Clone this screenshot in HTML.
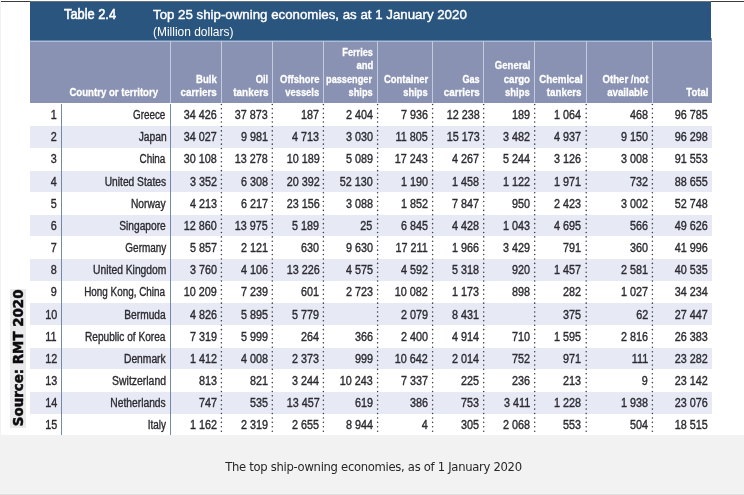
<!DOCTYPE html>
<html lang="en"><head><meta charset="utf-8"><title>Table 2.4</title>
<style>
html,body{margin:0;padding:0;}
body{width:744px;height:495px;position:relative;overflow:hidden;background:#f2f2f2;font-family:"Liberation Sans",sans-serif;}
#clip{position:absolute;left:0;top:0;width:744px;height:434.6px;overflow:hidden;}
#blur{position:absolute;left:-20px;top:-20px;width:784px;height:475px;filter:blur(0.3px);}
#org{position:absolute;left:20px;top:20px;width:744px;height:435px;}
#img{position:absolute;left:1px;top:-20px;width:783px;height:475px;background:#fff;}
#topline{position:absolute;left:1px;top:0.8px;width:743px;height:1.2px;background:#3a3a3a;}
#topline2{position:absolute;left:29.5px;top:0.8px;width:681.5px;height:1.5px;background:linear-gradient(#777,#5a6a7c);}
#titlebar{position:absolute;left:29.5px;top:2.2px;width:681.5px;height:38.2px;background:#29557f;}
#hdr{position:absolute;left:29.7px;top:38px;width:682.3px;height:64.7px;background:#8992b2;}
#hline{position:absolute;left:29.7px;top:40px;width:682.3px;height:2px;background:linear-gradient(#29557f 0,#29557f 20%,#a9bcd9 30%,#a9bcd9 80%,#8992b2 100%);}
.band{position:absolute;left:30px;width:682px;background:#e7e9f5;}
.t{position:absolute;white-space:nowrap;line-height:1;}
.r{transform-origin:right bottom;text-align:right;}
.l{transform-origin:left bottom;}
.num{font-size:12.0px;color:#2a2a30;-webkit-text-stroke:0.35px #2a2a30;}
.txt{font-size:12.0px;color:#2a2a30;-webkit-text-stroke:0.35px #2a2a30;}
.hd{font-size:11.4px;color:#fff;font-weight:bold;-webkit-text-stroke:0.3px #fff;}
.vs{position:absolute;width:1.4px;background:#7389a8;}
.hs{position:absolute;width:1.2px;background:#c3cbe0;top:41px;height:62px;}
#title1{left:63.8px;font-size:13.8px;color:#fff;-webkit-text-stroke:0.55px #fff;transform:scaleX(0.93);}
#title2{left:153.2px;font-size:13.6px;color:#fff;-webkit-text-stroke:0.42px #fff;transform:scaleX(0.977);}
#title3{left:152.9px;font-size:12.8px;color:#fff;transform:scaleX(0.935);}
#src{position:absolute;left:10px;top:288.5px;width:15.5px;height:139.7px;background:#eaeaec;}
#srct{position:absolute;left:0;top:0;white-space:nowrap;font-family:"DejaVu Sans","Liberation Sans",sans-serif;font-weight:bold;font-size:13.4px;color:#0c0c0c;-webkit-text-stroke:0.5px #0c0c0c;line-height:15.5px;height:15.5px;width:139.7px;text-align:center;transform-origin:0 0;transform:translate(1.2px,138.7px) rotate(-90deg);}
#cap{position:absolute;left:0;width:744px;text-align:center;top:459px;font-family:"DejaVu Sans","Liberation Sans",sans-serif;font-size:11.6px;color:#262626;line-height:16px;letter-spacing:-0.3px;padding-left:3px;box-sizing:border-box;}
#botline{position:absolute;left:0;top:494px;width:744px;height:1px;background:#dedede;}
</style></head><body>
<div id="clip"><div id="blur"><div id="org"><div id="img"></div>

<div class="band" style="top:126.20px;height:21.7px"></div>
<div class="band" style="top:170.50px;height:21.7px"></div>
<div class="band" style="top:214.80px;height:21.7px"></div>
<div class="band" style="top:259.10px;height:21.7px"></div>
<div class="band" style="top:303.40px;height:21.7px"></div>
<div class="band" style="top:347.70px;height:21.7px"></div>
<div class="band" style="top:392.00px;height:21.7px"></div>
<div id="topline"></div><div id="topline2"></div><div id="hdr"></div><div id="hline"></div><div id="titlebar"></div>
<div class="vs" style="left:61.1px;top:103.6px;height:331px"></div>
<div class="vs" style="left:169.5px;top:103.6px;height:331px"></div>
<div class="hs" style="left:169.6px"></div>
<div class="hs" style="left:220.80px"></div>
<div class="hs" style="left:271.70px"></div>
<div class="hs" style="left:322.80px"></div>
<div class="hs" style="left:377.00px"></div>
<div class="hs" style="left:432.00px"></div>
<div class="hs" style="left:483.10px"></div>
<div class="hs" style="left:534.10px"></div>
<div class="hs" style="left:585.60px"></div>
<div class="hs" style="left:651.80px"></div>
<svg id="dots" width="744" height="435" viewBox="0 0 744 435" style="position:absolute;left:0;top:0" fill="none" stroke="#36424f" stroke-width="1.55" stroke-linecap="round" stroke-dasharray="0.01 4.406">
<path d="M221.40 104.4V434"/>
<path d="M272.30 104.4V434"/>
<path d="M323.40 104.4V434"/>
<path d="M377.60 104.4V434"/>
<path d="M432.60 104.4V434"/>
<path d="M483.70 104.4V434"/>
<path d="M534.70 104.4V434"/>
<path d="M586.20 104.4V434"/>
<path d="M652.40 104.4V434"/>
</svg>
<span class="t l" id="title1" style="top:7.62px">Table 2.4</span>
<span class="t l" id="title2" style="top:7.59px">Top 25 ship-owning economies, as at 1 January 2020</span>
<span class="t l" id="title3" style="top:26.16px">(Million dollars)</span>
<span class="t r hd" style="right:585.90px;top:86.60px;transform:scaleX(0.8440)">Country or territory</span>
<span class="t r hd" style="right:527.70px;top:73.50px;transform:scaleX(0.8358)">Bulk</span>
<span class="t r hd" style="right:527.00px;top:86.60px;transform:scaleX(0.8686)">carriers</span>
<span class="t r hd" style="right:475.50px;top:73.50px;transform:scaleX(0.8206)">Oil</span>
<span class="t r hd" style="right:475.90px;top:86.60px;transform:scaleX(0.8687)">tankers</span>
<span class="t r hd" style="right:424.80px;top:73.50px;transform:scaleX(0.8295)">Offshore</span>
<span class="t r hd" style="right:425.05px;top:86.60px;transform:scaleX(0.8251)">vessels</span>
<span class="t r hd" style="right:370.90px;top:47.30px;transform:scaleX(0.8088)">Ferries</span>
<span class="t r hd" style="right:370.65px;top:60.40px;transform:scaleX(0.8307)">and</span>
<span class="t r hd" style="right:371.60px;top:73.50px;transform:scaleX(0.8066)">passenger</span>
<span class="t r hd" style="right:371.40px;top:86.60px;transform:scaleX(0.8133)">ships</span>
<span class="t r hd" style="right:316.00px;top:73.50px;transform:scaleX(0.8324)">Container</span>
<span class="t r hd" style="right:316.00px;top:86.60px;transform:scaleX(0.8216)">ships</span>
<span class="t r hd" style="right:264.10px;top:73.50px;transform:scaleX(0.7962)">Gas</span>
<span class="t r hd" style="right:264.60px;top:86.60px;transform:scaleX(0.8624)">carriers</span>
<span class="t r hd" style="right:213.30px;top:60.40px;transform:scaleX(0.8381)">General</span>
<span class="t r hd" style="right:213.80px;top:73.50px;transform:scaleX(0.8482)">cargo</span>
<span class="t r hd" style="right:213.80px;top:86.60px;transform:scaleX(0.8305)">ships</span>
<span class="t r hd" style="right:161.60px;top:73.50px;transform:scaleX(0.8561)">Chemical</span>
<span class="t r hd" style="right:162.60px;top:86.60px;transform:scaleX(0.8561)">tankers</span>
<span class="t r hd" style="right:96.00px;top:73.50px;transform:scaleX(0.8424)">Other /not</span>
<span class="t r hd" style="right:95.50px;top:86.60px;transform:scaleX(0.8513)">available</span>
<span class="t r hd" style="right:35.85px;top:86.60px;transform:scaleX(0.8367)">Total</span>
<span class="t r num" style="right:687.10px;top:108.99px;transform:scaleX(0.9000)">1</span>
<span class="t r txt" style="right:578.20px;top:108.99px;transform:scaleX(0.8211)">Greece</span>
<span class="t r num" style="right:527.00px;top:108.99px;transform:scaleX(0.9000)">34 426</span>
<span class="t r num" style="right:476.00px;top:108.99px;transform:scaleX(0.9000)">37 873</span>
<span class="t r num" style="right:424.80px;top:108.99px;transform:scaleX(0.9000)">187</span>
<span class="t r num" style="right:371.40px;top:108.99px;transform:scaleX(0.9000)">2 404</span>
<span class="t r num" style="right:316.00px;top:108.99px;transform:scaleX(0.9000)">7 936</span>
<span class="t r num" style="right:264.60px;top:108.99px;transform:scaleX(0.9000)">12 238</span>
<span class="t r num" style="right:213.80px;top:108.99px;transform:scaleX(0.9000)">189</span>
<span class="t r num" style="right:162.60px;top:108.99px;transform:scaleX(0.9000)">1 064</span>
<span class="t r num" style="right:96.00px;top:108.99px;transform:scaleX(0.9000)">468</span>
<span class="t r num" style="right:36.60px;top:108.99px;transform:scaleX(0.9000)">96 785</span>
<span class="t r num" style="right:687.10px;top:131.16px;transform:scaleX(0.9000)">2</span>
<span class="t r txt" style="right:577.70px;top:131.16px;transform:scaleX(0.8560)">Japan</span>
<span class="t r num" style="right:527.00px;top:131.16px;transform:scaleX(0.9000)">34 027</span>
<span class="t r num" style="right:476.00px;top:131.16px;transform:scaleX(0.9000)">9 981</span>
<span class="t r num" style="right:424.80px;top:131.16px;transform:scaleX(0.9000)">4 713</span>
<span class="t r num" style="right:371.40px;top:131.16px;transform:scaleX(0.9000)">3 030</span>
<span class="t r num" style="right:316.00px;top:131.16px;transform:scaleX(0.9000)">11 805</span>
<span class="t r num" style="right:264.60px;top:131.16px;transform:scaleX(0.9000)">15 173</span>
<span class="t r num" style="right:213.80px;top:131.16px;transform:scaleX(0.9000)">3 482</span>
<span class="t r num" style="right:162.60px;top:131.16px;transform:scaleX(0.9000)">4 937</span>
<span class="t r num" style="right:96.00px;top:131.16px;transform:scaleX(0.9000)">9 150</span>
<span class="t r num" style="right:36.60px;top:131.16px;transform:scaleX(0.9000)">96 298</span>
<span class="t r num" style="right:687.10px;top:153.33px;transform:scaleX(0.9000)">3</span>
<span class="t r txt" style="right:578.20px;top:153.33px;transform:scaleX(0.8243)">China</span>
<span class="t r num" style="right:527.00px;top:153.33px;transform:scaleX(0.9000)">30 108</span>
<span class="t r num" style="right:476.00px;top:153.33px;transform:scaleX(0.9000)">13 278</span>
<span class="t r num" style="right:424.80px;top:153.33px;transform:scaleX(0.9000)">10 189</span>
<span class="t r num" style="right:371.40px;top:153.33px;transform:scaleX(0.9000)">5 089</span>
<span class="t r num" style="right:316.00px;top:153.33px;transform:scaleX(0.9000)">17 243</span>
<span class="t r num" style="right:264.60px;top:153.33px;transform:scaleX(0.9000)">4 267</span>
<span class="t r num" style="right:213.80px;top:153.33px;transform:scaleX(0.9000)">5 244</span>
<span class="t r num" style="right:162.60px;top:153.33px;transform:scaleX(0.9000)">3 126</span>
<span class="t r num" style="right:96.00px;top:153.33px;transform:scaleX(0.9000)">3 008</span>
<span class="t r num" style="right:36.60px;top:153.33px;transform:scaleX(0.9000)">91 553</span>
<span class="t r num" style="right:687.10px;top:175.50px;transform:scaleX(0.9000)">4</span>
<span class="t r txt" style="right:578.20px;top:175.50px;transform:scaleX(0.8513)">United States</span>
<span class="t r num" style="right:527.00px;top:175.50px;transform:scaleX(0.9000)">3 352</span>
<span class="t r num" style="right:476.00px;top:175.50px;transform:scaleX(0.9000)">6 308</span>
<span class="t r num" style="right:424.80px;top:175.50px;transform:scaleX(0.9000)">20 392</span>
<span class="t r num" style="right:371.40px;top:175.50px;transform:scaleX(0.9000)">52 130</span>
<span class="t r num" style="right:316.00px;top:175.50px;transform:scaleX(0.9000)">1 190</span>
<span class="t r num" style="right:264.60px;top:175.50px;transform:scaleX(0.9000)">1 458</span>
<span class="t r num" style="right:213.80px;top:175.50px;transform:scaleX(0.9000)">1 122</span>
<span class="t r num" style="right:162.60px;top:175.50px;transform:scaleX(0.9000)">1 971</span>
<span class="t r num" style="right:96.00px;top:175.50px;transform:scaleX(0.9000)">732</span>
<span class="t r num" style="right:36.60px;top:175.50px;transform:scaleX(0.9000)">88 655</span>
<span class="t r num" style="right:687.10px;top:197.67px;transform:scaleX(0.9000)">5</span>
<span class="t r txt" style="right:578.70px;top:197.67px;transform:scaleX(0.8532)">Norway</span>
<span class="t r num" style="right:527.00px;top:197.67px;transform:scaleX(0.9000)">4 213</span>
<span class="t r num" style="right:476.00px;top:197.67px;transform:scaleX(0.9000)">6 217</span>
<span class="t r num" style="right:424.80px;top:197.67px;transform:scaleX(0.9000)">23 156</span>
<span class="t r num" style="right:371.40px;top:197.67px;transform:scaleX(0.9000)">3 088</span>
<span class="t r num" style="right:316.00px;top:197.67px;transform:scaleX(0.9000)">1 852</span>
<span class="t r num" style="right:264.60px;top:197.67px;transform:scaleX(0.9000)">7 847</span>
<span class="t r num" style="right:213.80px;top:197.67px;transform:scaleX(0.9000)">950</span>
<span class="t r num" style="right:162.60px;top:197.67px;transform:scaleX(0.9000)">2 423</span>
<span class="t r num" style="right:96.00px;top:197.67px;transform:scaleX(0.9000)">3 002</span>
<span class="t r num" style="right:36.60px;top:197.67px;transform:scaleX(0.9000)">52 748</span>
<span class="t r num" style="right:687.10px;top:219.84px;transform:scaleX(0.9000)">6</span>
<span class="t r txt" style="right:578.20px;top:219.84px;transform:scaleX(0.8498)">Singapore</span>
<span class="t r num" style="right:527.00px;top:219.84px;transform:scaleX(0.9000)">12 860</span>
<span class="t r num" style="right:476.00px;top:219.84px;transform:scaleX(0.9000)">13 975</span>
<span class="t r num" style="right:424.80px;top:219.84px;transform:scaleX(0.9000)">5 189</span>
<span class="t r num" style="right:371.40px;top:219.84px;transform:scaleX(0.9000)">25</span>
<span class="t r num" style="right:316.00px;top:219.84px;transform:scaleX(0.9000)">6 845</span>
<span class="t r num" style="right:264.60px;top:219.84px;transform:scaleX(0.9000)">4 428</span>
<span class="t r num" style="right:213.80px;top:219.84px;transform:scaleX(0.9000)">1 043</span>
<span class="t r num" style="right:162.60px;top:219.84px;transform:scaleX(0.9000)">4 695</span>
<span class="t r num" style="right:96.00px;top:219.84px;transform:scaleX(0.9000)">566</span>
<span class="t r num" style="right:36.60px;top:219.84px;transform:scaleX(0.9000)">49 626</span>
<span class="t r num" style="right:687.10px;top:242.01px;transform:scaleX(0.9000)">7</span>
<span class="t r txt" style="right:577.95px;top:242.01px;transform:scaleX(0.8305)">Germany</span>
<span class="t r num" style="right:527.00px;top:242.01px;transform:scaleX(0.9000)">5 857</span>
<span class="t r num" style="right:476.00px;top:242.01px;transform:scaleX(0.9000)">2 121</span>
<span class="t r num" style="right:424.80px;top:242.01px;transform:scaleX(0.9000)">630</span>
<span class="t r num" style="right:371.40px;top:242.01px;transform:scaleX(0.9000)">9 630</span>
<span class="t r num" style="right:316.00px;top:242.01px;transform:scaleX(0.9000)">17 211</span>
<span class="t r num" style="right:264.60px;top:242.01px;transform:scaleX(0.9000)">1 966</span>
<span class="t r num" style="right:213.80px;top:242.01px;transform:scaleX(0.9000)">3 429</span>
<span class="t r num" style="right:162.60px;top:242.01px;transform:scaleX(0.9000)">791</span>
<span class="t r num" style="right:96.00px;top:242.01px;transform:scaleX(0.9000)">360</span>
<span class="t r num" style="right:36.60px;top:242.01px;transform:scaleX(0.9000)">41 996</span>
<span class="t r num" style="right:687.10px;top:264.18px;transform:scaleX(0.9000)">8</span>
<span class="t r txt" style="right:577.70px;top:264.18px;transform:scaleX(0.8583)">United Kingdom</span>
<span class="t r num" style="right:527.00px;top:264.18px;transform:scaleX(0.9000)">3 760</span>
<span class="t r num" style="right:476.00px;top:264.18px;transform:scaleX(0.9000)">4 106</span>
<span class="t r num" style="right:424.80px;top:264.18px;transform:scaleX(0.9000)">13 226</span>
<span class="t r num" style="right:371.40px;top:264.18px;transform:scaleX(0.9000)">4 575</span>
<span class="t r num" style="right:316.00px;top:264.18px;transform:scaleX(0.9000)">4 592</span>
<span class="t r num" style="right:264.60px;top:264.18px;transform:scaleX(0.9000)">5 318</span>
<span class="t r num" style="right:213.80px;top:264.18px;transform:scaleX(0.9000)">920</span>
<span class="t r num" style="right:162.60px;top:264.18px;transform:scaleX(0.9000)">1 457</span>
<span class="t r num" style="right:96.00px;top:264.18px;transform:scaleX(0.9000)">2 581</span>
<span class="t r num" style="right:36.60px;top:264.18px;transform:scaleX(0.9000)">40 535</span>
<span class="t r num" style="right:687.10px;top:286.35px;transform:scaleX(0.9000)">9</span>
<span class="t r txt" style="right:578.45px;top:286.35px;transform:scaleX(0.8251)">Hong Kong, China</span>
<span class="t r num" style="right:527.00px;top:286.35px;transform:scaleX(0.9000)">10 209</span>
<span class="t r num" style="right:476.00px;top:286.35px;transform:scaleX(0.9000)">7 239</span>
<span class="t r num" style="right:424.80px;top:286.35px;transform:scaleX(0.9000)">601</span>
<span class="t r num" style="right:371.40px;top:286.35px;transform:scaleX(0.9000)">2 723</span>
<span class="t r num" style="right:316.00px;top:286.35px;transform:scaleX(0.9000)">10 082</span>
<span class="t r num" style="right:264.60px;top:286.35px;transform:scaleX(0.9000)">1 173</span>
<span class="t r num" style="right:213.80px;top:286.35px;transform:scaleX(0.9000)">898</span>
<span class="t r num" style="right:162.60px;top:286.35px;transform:scaleX(0.9000)">282</span>
<span class="t r num" style="right:96.00px;top:286.35px;transform:scaleX(0.9000)">1 027</span>
<span class="t r num" style="right:36.60px;top:286.35px;transform:scaleX(0.9000)">34 234</span>
<span class="t r num" style="right:687.10px;top:308.52px;transform:scaleX(0.9000)">10</span>
<span class="t r txt" style="right:578.70px;top:308.52px;transform:scaleX(0.8510)">Bermuda</span>
<span class="t r num" style="right:527.00px;top:308.52px;transform:scaleX(0.9000)">4 826</span>
<span class="t r num" style="right:476.00px;top:308.52px;transform:scaleX(0.9000)">5 895</span>
<span class="t r num" style="right:424.80px;top:308.52px;transform:scaleX(0.9000)">5 779</span>
<span class="t r num" style="right:316.00px;top:308.52px;transform:scaleX(0.9000)">2 079</span>
<span class="t r num" style="right:264.60px;top:308.52px;transform:scaleX(0.9000)">8 431</span>
<span class="t r num" style="right:162.60px;top:308.52px;transform:scaleX(0.9000)">375</span>
<span class="t r num" style="right:96.00px;top:308.52px;transform:scaleX(0.9000)">62</span>
<span class="t r num" style="right:36.60px;top:308.52px;transform:scaleX(0.9000)">27 447</span>
<span class="t r num" style="right:687.10px;top:330.69px;transform:scaleX(0.9000)">11</span>
<span class="t r txt" style="right:578.70px;top:330.69px;transform:scaleX(0.8429)">Republic of Korea</span>
<span class="t r num" style="right:527.00px;top:330.69px;transform:scaleX(0.9000)">7 319</span>
<span class="t r num" style="right:476.00px;top:330.69px;transform:scaleX(0.9000)">5 999</span>
<span class="t r num" style="right:424.80px;top:330.69px;transform:scaleX(0.9000)">264</span>
<span class="t r num" style="right:371.40px;top:330.69px;transform:scaleX(0.9000)">366</span>
<span class="t r num" style="right:316.00px;top:330.69px;transform:scaleX(0.9000)">2 400</span>
<span class="t r num" style="right:264.60px;top:330.69px;transform:scaleX(0.9000)">4 914</span>
<span class="t r num" style="right:213.80px;top:330.69px;transform:scaleX(0.9000)">710</span>
<span class="t r num" style="right:162.60px;top:330.69px;transform:scaleX(0.9000)">1 595</span>
<span class="t r num" style="right:96.00px;top:330.69px;transform:scaleX(0.9000)">2 816</span>
<span class="t r num" style="right:36.60px;top:330.69px;transform:scaleX(0.9000)">26 383</span>
<span class="t r num" style="right:687.10px;top:352.86px;transform:scaleX(0.9000)">12</span>
<span class="t r txt" style="right:578.20px;top:352.86px;transform:scaleX(0.8566)">Denmark</span>
<span class="t r num" style="right:527.00px;top:352.86px;transform:scaleX(0.9000)">1 412</span>
<span class="t r num" style="right:476.00px;top:352.86px;transform:scaleX(0.9000)">4 008</span>
<span class="t r num" style="right:424.80px;top:352.86px;transform:scaleX(0.9000)">2 373</span>
<span class="t r num" style="right:371.40px;top:352.86px;transform:scaleX(0.9000)">999</span>
<span class="t r num" style="right:316.00px;top:352.86px;transform:scaleX(0.9000)">10 642</span>
<span class="t r num" style="right:264.60px;top:352.86px;transform:scaleX(0.9000)">2 014</span>
<span class="t r num" style="right:213.80px;top:352.86px;transform:scaleX(0.9000)">752</span>
<span class="t r num" style="right:162.60px;top:352.86px;transform:scaleX(0.9000)">971</span>
<span class="t r num" style="right:96.00px;top:352.86px;transform:scaleX(0.9000)">111</span>
<span class="t r num" style="right:36.60px;top:352.86px;transform:scaleX(0.9000)">23 282</span>
<span class="t r num" style="right:687.10px;top:375.03px;transform:scaleX(0.9000)">13</span>
<span class="t r txt" style="right:577.95px;top:375.03px;transform:scaleX(0.8693)">Switzerland</span>
<span class="t r num" style="right:527.00px;top:375.03px;transform:scaleX(0.9000)">813</span>
<span class="t r num" style="right:476.00px;top:375.03px;transform:scaleX(0.9000)">821</span>
<span class="t r num" style="right:424.80px;top:375.03px;transform:scaleX(0.9000)">3 244</span>
<span class="t r num" style="right:371.40px;top:375.03px;transform:scaleX(0.9000)">10 243</span>
<span class="t r num" style="right:316.00px;top:375.03px;transform:scaleX(0.9000)">7 337</span>
<span class="t r num" style="right:264.60px;top:375.03px;transform:scaleX(0.9000)">225</span>
<span class="t r num" style="right:213.80px;top:375.03px;transform:scaleX(0.9000)">236</span>
<span class="t r num" style="right:162.60px;top:375.03px;transform:scaleX(0.9000)">213</span>
<span class="t r num" style="right:96.00px;top:375.03px;transform:scaleX(0.9000)">9</span>
<span class="t r num" style="right:36.60px;top:375.03px;transform:scaleX(0.9000)">23 142</span>
<span class="t r num" style="right:687.10px;top:397.20px;transform:scaleX(0.9000)">14</span>
<span class="t r txt" style="right:578.20px;top:397.20px;transform:scaleX(0.8562)">Netherlands</span>
<span class="t r num" style="right:527.00px;top:397.20px;transform:scaleX(0.9000)">747</span>
<span class="t r num" style="right:476.00px;top:397.20px;transform:scaleX(0.9000)">535</span>
<span class="t r num" style="right:424.80px;top:397.20px;transform:scaleX(0.9000)">13 457</span>
<span class="t r num" style="right:371.40px;top:397.20px;transform:scaleX(0.9000)">619</span>
<span class="t r num" style="right:316.00px;top:397.20px;transform:scaleX(0.9000)">386</span>
<span class="t r num" style="right:264.60px;top:397.20px;transform:scaleX(0.9000)">753</span>
<span class="t r num" style="right:213.80px;top:397.20px;transform:scaleX(0.9000)">3 411</span>
<span class="t r num" style="right:162.60px;top:397.20px;transform:scaleX(0.9000)">1 228</span>
<span class="t r num" style="right:96.00px;top:397.20px;transform:scaleX(0.9000)">1 938</span>
<span class="t r num" style="right:36.60px;top:397.20px;transform:scaleX(0.9000)">23 076</span>
<span class="t r num" style="right:687.10px;top:419.37px;transform:scaleX(0.9000)">15</span>
<span class="t r txt" style="right:578.20px;top:419.37px;transform:scaleX(0.8292)">Italy</span>
<span class="t r num" style="right:527.00px;top:419.37px;transform:scaleX(0.9000)">1 162</span>
<span class="t r num" style="right:476.00px;top:419.37px;transform:scaleX(0.9000)">2 319</span>
<span class="t r num" style="right:424.80px;top:419.37px;transform:scaleX(0.9000)">2 655</span>
<span class="t r num" style="right:371.40px;top:419.37px;transform:scaleX(0.9000)">8 944</span>
<span class="t r num" style="right:316.00px;top:419.37px;transform:scaleX(0.9000)">4</span>
<span class="t r num" style="right:264.60px;top:419.37px;transform:scaleX(0.9000)">305</span>
<span class="t r num" style="right:213.80px;top:419.37px;transform:scaleX(0.9000)">2 068</span>
<span class="t r num" style="right:162.60px;top:419.37px;transform:scaleX(0.9000)">553</span>
<span class="t r num" style="right:96.00px;top:419.37px;transform:scaleX(0.9000)">504</span>
<span class="t r num" style="right:36.60px;top:419.37px;transform:scaleX(0.9000)">18 515</span>
<div id="src"><div id="srct">Source: RMT 2020</div></div>
</div></div></div>
<div id="cap">The top ship-owning economies, as of 1 January 2020</div>
<div id="botline"></div>
</body></html>
